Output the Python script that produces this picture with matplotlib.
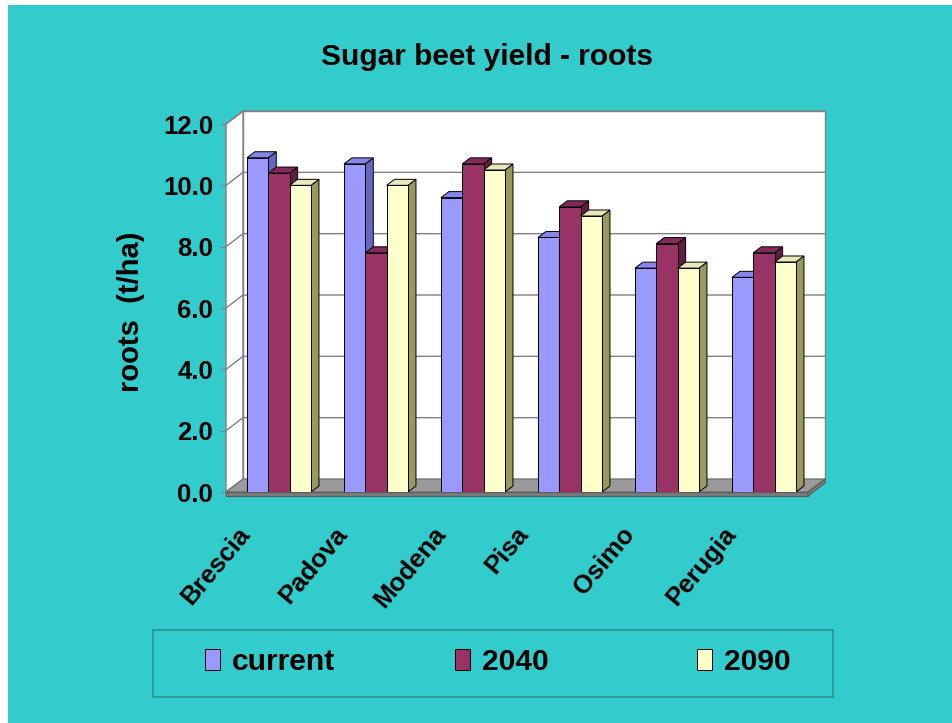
import numpy as np
import matplotlib
matplotlib.use('Agg')
import matplotlib.pyplot as plt
from matplotlib.patches import Polygon, Rectangle

# ---- data ----
cities = ['Brescia', 'Padova', 'Modena', 'Pisa', 'Osimo', 'Perugia']
series_names = ['current', '2040', '2090']
current = [10.9, 10.7, 9.6, 8.3, 7.3, 7.0]
y2040 = [10.4, 7.8, 10.7, 9.3, 8.1, 7.8]
y2090 = [10.0, 10.0, 10.5, 9.0, 7.3, 7.5]
yticks = [0, 2, 4, 6, 8, 10, 12]
title = 'Sugar beet yield - roots'
ylabel = 'roots  (t/ha)'

series = [current, y2040, y2090]
front_colors = ['#9999FF', '#993366', '#FFFFCC']
top_colors = ['#8585EB', '#84295A', '#E8E8B8']
side_colors = ['#6666C0', '#5E1E40', '#99995E']

plt.rcParams['font.family'] = ['Liberation Sans', 'DejaVu Sans']
plt.rcParams['font.weight'] = 'bold'

BG = '#33CCCC'
GRID = '#808080'
W, H = 952, 723
fig = plt.figure(figsize=(W / 100, H / 100), dpi=100, facecolor='white')
fig.patches.append(Rectangle((8 / W, 0), 1 - 8 / W, (H - 5) / H, transform=fig.transFigure,
                             facecolor=BG, edgecolor='none', zorder=-10))

ax = fig.add_axes([226 / W, (H - 492) / H, 582 / W, 368 / H])
ax.set_zorder(5)
ax.patch.set_visible(False)
for sp in ax.spines.values():
    sp.set_visible(False)

px_y = 368 / 12.0   # pixels per value unit
px_x = 582 / 6.0    # pixels per category
DX, DY = 17 / px_x, 13 / px_y       # wall depth
ddx, ddy = 8 / px_x, 6 / px_y       # bar depth
x0, x1 = -0.5, 5.5
ytop = yticks[-1]

# back wall
ax.add_patch(Rectangle((x0 + DX, DY), x1 - x0, ytop, facecolor='white', edgecolor=GRID,
                       lw=1, clip_on=False, zorder=1))
# left wall
ax.add_patch(Polygon([(x0, 0), (x0 + DX, DY), (x0 + DX, ytop + DY), (x0, ytop)], closed=True,
                     facecolor='white', edgecolor=GRID, lw=1, clip_on=False, zorder=1))
# gridlines
for v in yticks[1:]:
    ax.plot([x0, x0 + DX, x1 + DX], [v, v + DY, v + DY], color=GRID, lw=1, clip_on=False, zorder=2)

# floor
t = 4 / px_y
ax.add_patch(Polygon([(x0, 0), (x1, 0), (x1 + DX, DY), (x0 + DX, DY)], closed=True,
                     facecolor='#9A9A9A', edgecolor='#6E6E6E', lw=0.8, clip_on=False, zorder=3))
ax.add_patch(Rectangle((x0, -t), x1 - x0, t, facecolor='#7A7A7A', edgecolor='#5A5A5A',
                       lw=0.8, clip_on=False, zorder=3))
ax.add_patch(Polygon([(x1, -t), (x1 + DX, DY - t), (x1 + DX, DY), (x1, 0)], closed=True,
                     facecolor='#7A7A7A', edgecolor='#5A5A5A', lw=0.8, clip_on=False, zorder=3))

# bars
BW = 0.22
start = -0.284
idx = np.arange(len(cities))
bars = []
for s, vals in enumerate(series):
    lefts = idx + start + s * BW
    zb = 10 + 3 * s
    for xl, v in zip(lefts, vals):
        xr = xl + BW
        ax.add_patch(Polygon([(xr, 0), (xr + ddx, ddy), (xr + ddx, v + ddy), (xr, v)], closed=True,
                             facecolor=side_colors[s], edgecolor='black', lw=0.7, zorder=zb))
        ax.add_patch(Polygon([(xl, v), (xr, v), (xr + ddx, v + ddy), (xl + ddx, v + ddy)], closed=True,
                             facecolor=top_colors[s], edgecolor='black', lw=0.7, zorder=zb + 1))
    b = ax.bar(lefts, vals, width=BW, align='edge', color=front_colors[s], edgecolor='black',
               lw=0.7, zorder=zb + 2, label=series_names[s])
    bars.append(b)

# axes text
ax.set_yticks(yticks, labels=[f'{v:.1f}' for v in yticks])
ax.tick_params(axis='y', length=4, color=GRID, pad=5.3, labelsize=18.5)
ax.set_xticks([])
ax.set_xlim(x0, x1)
ax.set_ylim(0, ytop)
for i, name in zip(idx, cities):
    ax.text(i - 0.6, -0.082, name, transform=ax.get_xaxis_transform(), rotation=50,
            ha='center', va='top', fontsize=18.5, clip_on=False)

ax.set_ylabel(ylabel, fontsize=21, fontweight='bold', va='center', ha='center')
ax.yaxis.set_label_coords((131 - 226) / 582, (492 - 312) / 368)

fig.text(487 / W, 1 - 57 / H, title, ha='center', va='center', fontsize=21.5)

# legend
fig.patches.append(Rectangle((153 / W, 1 - 697 / H), (833 - 153) / W, 67 / H,
                             transform=fig.transFigure, fill=False, edgecolor='#2E9090', lw=1.2))
for s, xs in enumerate([205, 455, 697]):
    fig.legend([bars[s]], [series_names[s]], loc='center left',
               bbox_to_anchor=(xs / W, 1 - 662 / H), frameon=False, fontsize=21.6,
               handlelength=0.5, handleheight=0.73, handletextpad=0.4,
               borderpad=0, borderaxespad=0)

fig.savefig('out.png', dpi=100, facecolor=fig.get_facecolor())
